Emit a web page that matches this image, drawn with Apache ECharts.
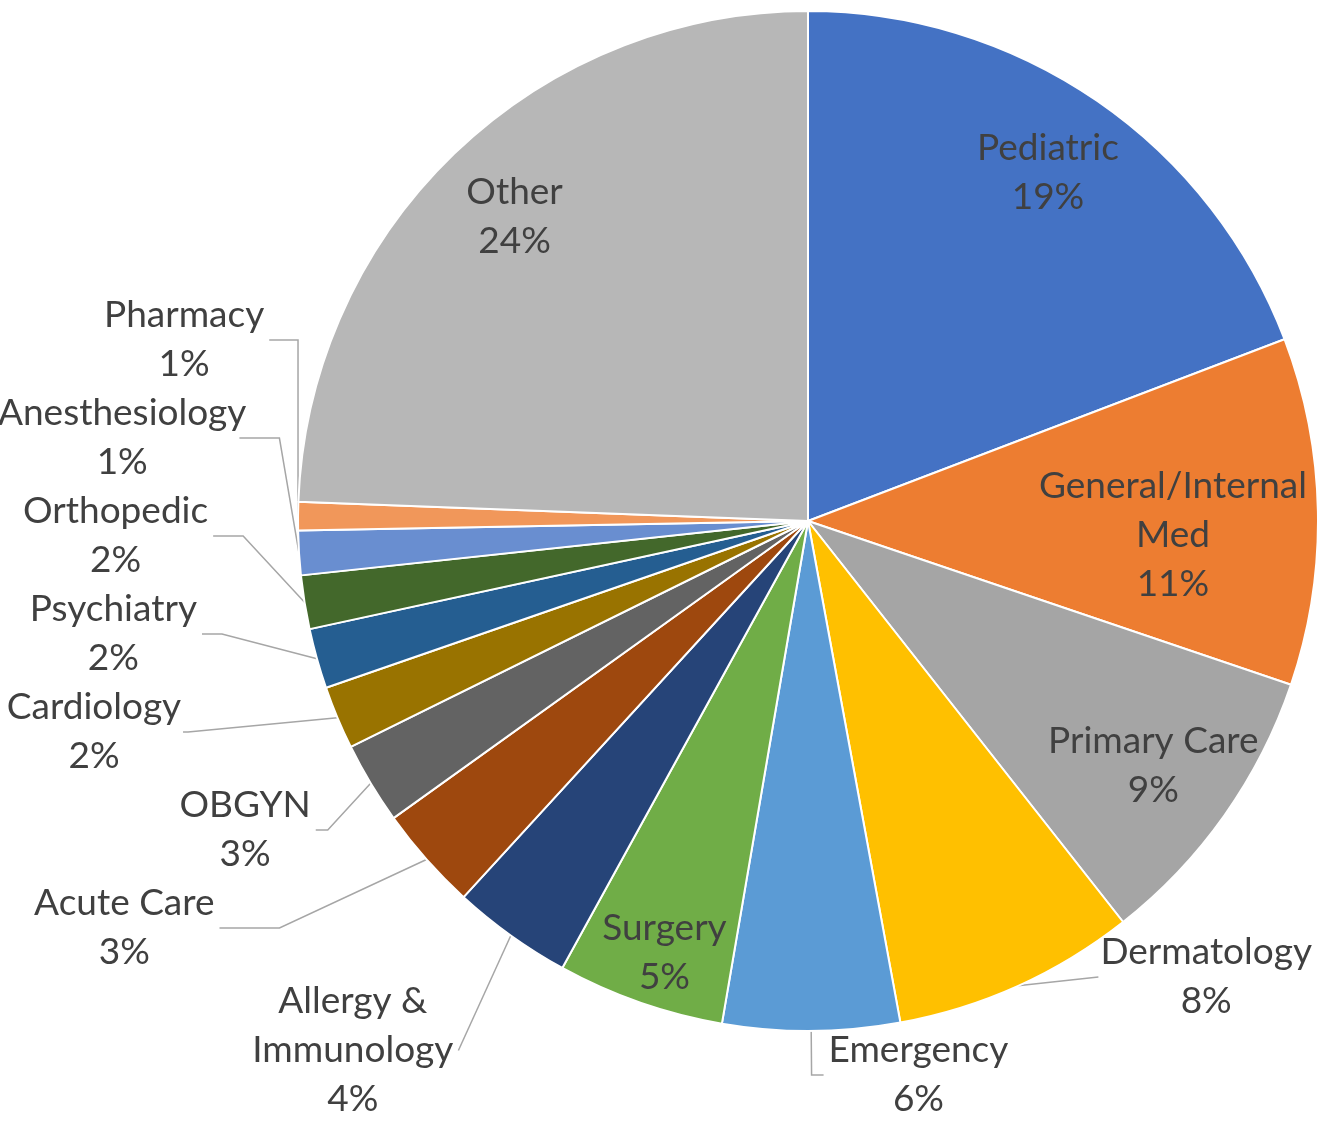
<!DOCTYPE html>
<html lang="en">
<head>
    <meta charset="UTF-8">
    <title>Specialties</title>
    <style>
        html, body { margin: 0; padding: 0; background: #fff; }
        #main { width: 1319px; height: 1124px; }
    </style>
</head>
<body>
<div id="main"></div>
<script src="https://cdn.jsdelivr.net/npm/echarts@6/dist/echarts.min.js"></script>
<script>
    const myChart = echarts.init(document.getElementById('main'));

    // slices, clockwise from 12 o'clock
    const categories = [
        'Pediatric', 'General/Internal Med', 'Primary Care', 'Dermatology', 'Emergency',
        'Surgery', 'Allergy & Immunology', 'Acute Care', 'OBGYN', 'Cardiology',
        'Psychiatry', 'Orthopedic', 'Anesthesiology', 'Pharmacy', 'Other'
    ];
    const values = [19.2, 11.0, 9.2, 7.7, 5.6, 5.3, 3.8, 3.3, 2.6, 2.0, 1.9, 1.7, 1.4, 0.9, 24.4];
    const colors = [
        '#4472C4', '#ED7D31', '#A5A5A5', '#FFC000', '#5B9BD5',
        '#70AD47', '#264478', '#9E480E', '#636363', '#997300',
        '#255E91', '#43682B', '#698ED0', '#F1975A', '#B7B7B7'
    ];
    // these get their label drawn on the slice
    const insideLabels = ['Pediatric', 'General/Internal Med', 'Primary Care', 'Surgery', 'Other'];

    // leader line lengths [radial part, horizontal part] for the outside labels
    const leader = {
        'Dermatology': [10, 0],
        'Emergency': [60, 12],
        'Allergy & Immunology': [90, 0],
        'Acute Care': [170, 60],
        'OBGYN': [40, 12],
        'Cardiology': [150, 5],
        'Psychiatry': [90, 20],
        'Orthopedic': [60, 30],
        'Anesthesiology': [30, 40],
        'Pharmacy': [30, 35]
    };
    // nudges for the on-slice labels that Excel placed off the common radius
    const insideOffset = {
        'General/Internal Med': [-58, 22],
        'Surgery': [-4, 32]
    };

    const font = { fontFamily: 'Lato', fontSize: 37, lineHeight: 49, color: '#404040' };

    function labelText(p) {
        const lines = p.name.replace('Internal ', 'Internal\n').replace('& ', '&\n').split('\n');
        lines.push(p.percent + '%');
        return lines.map(s => '{t|' + s + '}').join('\n');
    }
    const rich = { t: Object.assign({ align: 'center' }, font) };

    const center = [808, 521];
    const R = 510;

    const option = {
        animation: false,
        series: [
            {
                // the pie itself, with leader-line labels for the thin slices
                type: 'pie',
                center: center,
                radius: [0, R],
                startAngle: 90,
                clockwise: true,
                percentPrecision: 0,
                itemStyle: { borderColor: '#fff', borderWidth: 2 },
                label: {
                    position: 'outside',
                    formatter: labelText,
                    rich: rich,
                    overflow: 'none',
                    minMargin: 12
                },
                labelLine: {
                    length: 30,
                    length2: 12,
                    lineStyle: { color: '#A6A6A6', width: 1.5 }
                },
                data: categories.map((name, i) => {
                    const inside = insideLabels.includes(name);
                    const len = leader[name] || [30, 12];
                    return {
                        name: name,
                        value: values[i],
                        itemStyle: { color: colors[i] },
                        label: { show: !inside },
                        labelLine: { show: !inside, length: len[0], length2: len[1] }
                    };
                })
            },
            {
                // transparent ring over the outer part, only to place the on-slice labels
                type: 'pie',
                center: center,
                radius: [330, R],
                startAngle: 90,
                clockwise: true,
                percentPrecision: 0,
                silent: true,
                itemStyle: { color: 'rgba(0,0,0,0)', borderWidth: 0 },
                label: {
                    position: 'inside',
                    formatter: labelText,
                    rich: rich
                },
                labelLine: { show: false },
                data: categories.map((name, i) => ({
                    name: name,
                    value: values[i],
                    label: {
                        show: insideLabels.includes(name),
                        offset: insideOffset[name] || [0, 0]
                    }
                }))
            }
        ]
    };

    myChart.setOption(option);
</script>
</body>
</html>
